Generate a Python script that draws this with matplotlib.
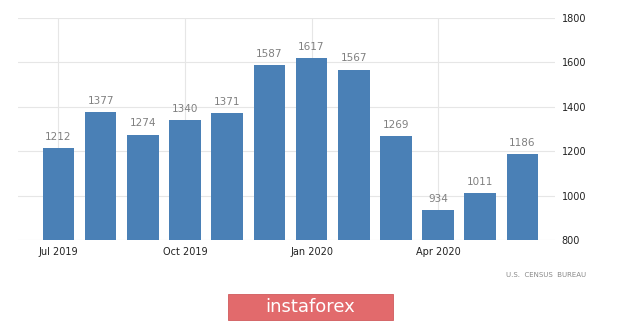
# US new home / housing data, Jul 2019 - Jun 2020
import matplotlib
matplotlib.use('Agg')
import matplotlib.pyplot as plt
from matplotlib.patches import FancyBboxPatch

months = ['Jul 2019', 'Aug 2019', 'Sep 2019', 'Oct 2019', 'Nov 2019', 'Dec 2019',
          'Jan 2020', 'Feb 2020', 'Mar 2020', 'Apr 2020', 'May 2020', 'Jun 2020']
values = [1212, 1377, 1274, 1340, 1371, 1587, 1617, 1567, 1269, 934, 1011, 1186]
tick_idx = [0, 3, 6, 9]
y_ticks = [800, 1000, 1200, 1400, 1600, 1800]

fig = plt.figure(figsize=(6.2, 3.22), dpi=100)
ax = fig.add_axes([0.029, 0.2547, 0.866, 0.69])

x = list(range(len(values)))
ax.bar(x, values, width=0.75, color='#4a80b6', zorder=2)
for xi, v in zip(x, values):
    ax.text(xi, v + 28, str(v), ha='center', va='bottom', fontsize=7.5, color='#808080')

ax.set_xlim(-0.96, 11.77)
ax.set_ylim(800, 1800)
ax.set_xticks(tick_idx)
ax.set_xticklabels([months[i] for i in tick_idx], fontsize=7, color='#222222')
ax.set_yticks(y_ticks)
ax.set_yticklabels([str(t) for t in y_ticks], fontsize=7, color='#222222')
ax.yaxis.tick_right()
ax.tick_params(axis='both', length=0)
ax.tick_params(axis='y', pad=5)
ax.tick_params(axis='x', pad=5)
ax.grid(True, color='#e6e6e6', linewidth=0.8, zorder=0)
for s in ax.spines.values():
    s.set_visible(False)

fig.text(0.945, 0.145, 'U.S.  CENSUS  BUREAU', fontsize=5, color='#888888', ha='right', va='center')

btn = FancyBboxPatch((228 / 620, 1 - 320 / 322), 165 / 620, 26 / 322,
                     boxstyle='square,pad=0', transform=fig.transFigure,
                     facecolor='#e26a6c', edgecolor='#d05a5c', linewidth=0.6)
fig.patches.append(btn)
fig.text(310 / 620, 1 - 307 / 322, 'instaforex', fontsize=13, color='white',
         ha='center', va='center')

plt.savefig('out.png', dpi=100)
